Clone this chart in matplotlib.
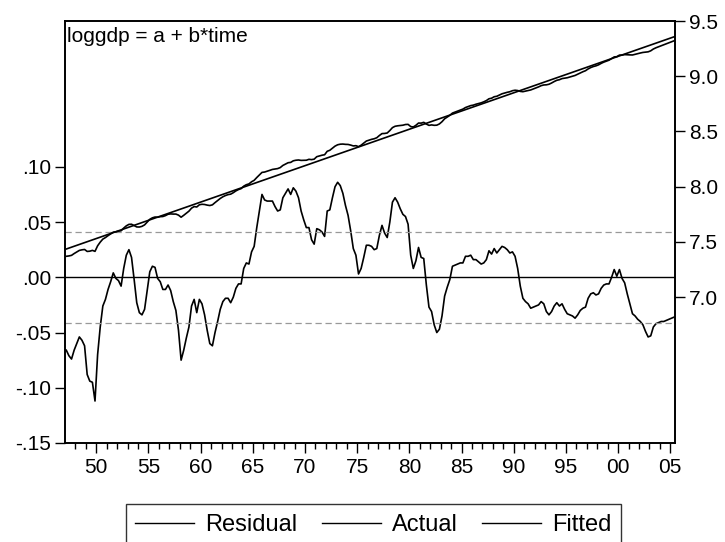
import numpy as np
import matplotlib
matplotlib.use("Agg")
import matplotlib.pyplot as plt
from matplotlib.ticker import FixedLocator, FuncFormatter

plt.rcParams['font.family'] = ['Liberation Sans', 'DejaVu Sans']

# quarterly residuals, 1947Q1 .. 2005Q2
resid_by_year = {
    1947: [-0.066, -0.071, -0.074, -0.066],
    1948: [-0.060, -0.054, -0.057, -0.062],
    1949: [-0.088, -0.094, -0.095, -0.112],
    1950: [-0.070, -0.045, -0.026, -0.020],
    1951: [-0.011, -0.004, 0.004, -0.001],
    1952: [-0.003, -0.008, 0.008, 0.020],
    1953: [0.025, 0.018, -0.002, -0.023],
    1954: [-0.032, -0.034, -0.029, -0.012],
    1955: [0.005, 0.010, 0.009, -0.001],
    1956: [-0.004, -0.011, -0.011, -0.007],
    1957: [-0.012, -0.022, -0.030, -0.048],
    1958: [-0.075, -0.066, -0.055, -0.045],
    1959: [-0.026, -0.020, -0.032, -0.020],
    1960: [-0.024, -0.034, -0.048, -0.060],
    1961: [-0.062, -0.050, -0.040, -0.029],
    1962: [-0.022, -0.019, -0.019, -0.023],
    1963: [-0.018, -0.010, -0.006, -0.006],
    1964: [0.008, 0.013, 0.012, 0.023],
    1965: [0.028, 0.045, 0.060, 0.075],
    1966: [0.070, 0.069, 0.069, 0.069],
    1967: [0.064, 0.060, 0.061, 0.072],
    1968: [0.076, 0.080, 0.075, 0.081],
    1969: [0.078, 0.072, 0.060, 0.052],
    1970: [0.045, 0.045, 0.034, 0.030],
    1971: [0.044, 0.043, 0.041, 0.037],
    1972: [0.060, 0.061, 0.072, 0.082],
    1973: [0.086, 0.083, 0.076, 0.065],
    1974: [0.056, 0.042, 0.026, 0.020],
    1975: [0.003, 0.008, 0.018, 0.029],
    1976: [0.029, 0.028, 0.025, 0.026],
    1977: [0.038, 0.047, 0.040, 0.036],
    1978: [0.050, 0.068, 0.072, 0.068],
    1979: [0.062, 0.057, 0.055, 0.048],
    1980: [0.020, 0.008, 0.015, 0.027],
    1981: [0.018, 0.017, -0.007, -0.027],
    1982: [-0.031, -0.043, -0.050, -0.047],
    1983: [-0.035, -0.017, -0.009, -0.002],
    1984: [0.010, 0.011, 0.012, 0.013],
    1985: [0.013, 0.019, 0.019, 0.020],
    1986: [0.016, 0.016, 0.014, 0.012],
    1987: [0.013, 0.016, 0.024, 0.021],
    1988: [0.026, 0.022, 0.025, 0.028],
    1989: [0.027, 0.025, 0.022, 0.023],
    1990: [0.019, 0.008, -0.008, -0.019],
    1991: [-0.022, -0.024, -0.028, -0.027],
    1992: [-0.026, -0.025, -0.022, -0.024],
    1993: [-0.031, -0.034, -0.031, -0.026],
    1994: [-0.023, -0.026, -0.024, -0.029],
    1995: [-0.033, -0.034, -0.035, -0.037],
    1996: [-0.034, -0.030, -0.028, -0.027],
    1997: [-0.019, -0.015, -0.014, -0.016],
    1998: [-0.015, -0.010, -0.007, -0.006],
    1999: [-0.006, 0.000, 0.007, 0.001],
    2000: [0.007, -0.001, -0.005, -0.015],
    2001: [-0.024, -0.033, -0.035, -0.038],
    2002: [-0.040, -0.043, -0.049, -0.054],
    2003: [-0.053, -0.045, -0.042, -0.041],
    2004: [-0.040, -0.040, -0.039, -0.038],
    2005: [-0.037, -0.036],
}

# regression loggdp = a + b*time (time = quarter index from 1947Q1)
a = 7.435
b = 0.00825
se_band = 0.041

resid = np.array([v for yr in sorted(resid_by_year) for v in resid_by_year[yr]])
time = np.arange(len(resid))
dates = 1947.125 + time / 4.0
fitted = a + b * time
actual = fitted + resid

fig = plt.figure(figsize=(7.25, 5.42), dpi=100)
ax = fig.add_axes([65/725, 1 - 443/542, 610/725, 422/542])
ax2 = ax.twinx()

ax.plot(dates, resid, color='black', lw=1.2, label='Residual')
ax.axhline(0, color='black', lw=1.0)
ax.axhline(se_band, color='#999999', lw=0.9, ls=(0, (5, 3)))
ax.axhline(-se_band, color='#999999', lw=0.9, ls=(0, (5, 3)))
ax2.plot(dates, actual, color='black', lw=1.2, label='Actual')
ax2.plot(dates, fitted, color='black', lw=1.2, label='Fitted')

ax.set_xlim(1947.0, 2005.45)
ax.set_ylim(-0.15, 0.232)
ax2.set_ylim(5.678, 9.5)

ax.yaxis.set_major_locator(FixedLocator([-0.15, -0.10, -0.05, 0.0, 0.05, 0.10]))
ax.yaxis.set_major_formatter(FuncFormatter(
    lambda v, p: ('-' if v < -1e-9 else '') + ('%.2f' % abs(v))[1:]))
ax2.yaxis.set_major_locator(FixedLocator([7.0, 7.5, 8.0, 8.5, 9.0, 9.5]))
ax2.yaxis.set_major_formatter(FuncFormatter(lambda v, p: '%.1f' % v))

ax.xaxis.set_major_locator(FixedLocator(list(range(1950, 2006, 5))))
ax.xaxis.set_minor_locator(FixedLocator(list(range(1948, 2006))))
ax.xaxis.set_major_formatter(FuncFormatter(lambda v, p: '%02d' % (int(round(v)) % 100)))

for s in list(ax.spines.values()) + list(ax2.spines.values()):
    s.set_linewidth(1.2)
ax.tick_params(axis='both', which='major', direction='out', length=7, width=1.0,
               labelsize=15, pad=3)
ax.tick_params(axis='x', which='minor', direction='out', length=4, width=1.0)
ax2.tick_params(axis='y', direction='out', length=7, width=1.0, labelsize=15, pad=3)
ax.tick_params(axis='x', pad=4)

ax.text(0.003, 0.985, 'loggdp = a + b*time', transform=ax.transAxes,
        ha='left', va='top', fontsize=15)

handles = [ax.lines[0], ax2.lines[0], ax2.lines[1]]
leg = fig.legend(handles, ['Residual', 'Actual', 'Fitted'], loc='upper center',
                 bbox_to_anchor=(0.515, 1 - 504/542), ncol=3, frameon=True,
                 fancybox=False, edgecolor='black', fontsize=17,
                 handlelength=2.5, handletextpad=0.45, columnspacing=1.05,
                 borderpad=0.42, borderaxespad=0.0)
leg.get_frame().set_linewidth(1.0)
for h in leg.get_lines():
    h.set_linewidth(1.0)

fig.savefig('out.png', dpi=100)
